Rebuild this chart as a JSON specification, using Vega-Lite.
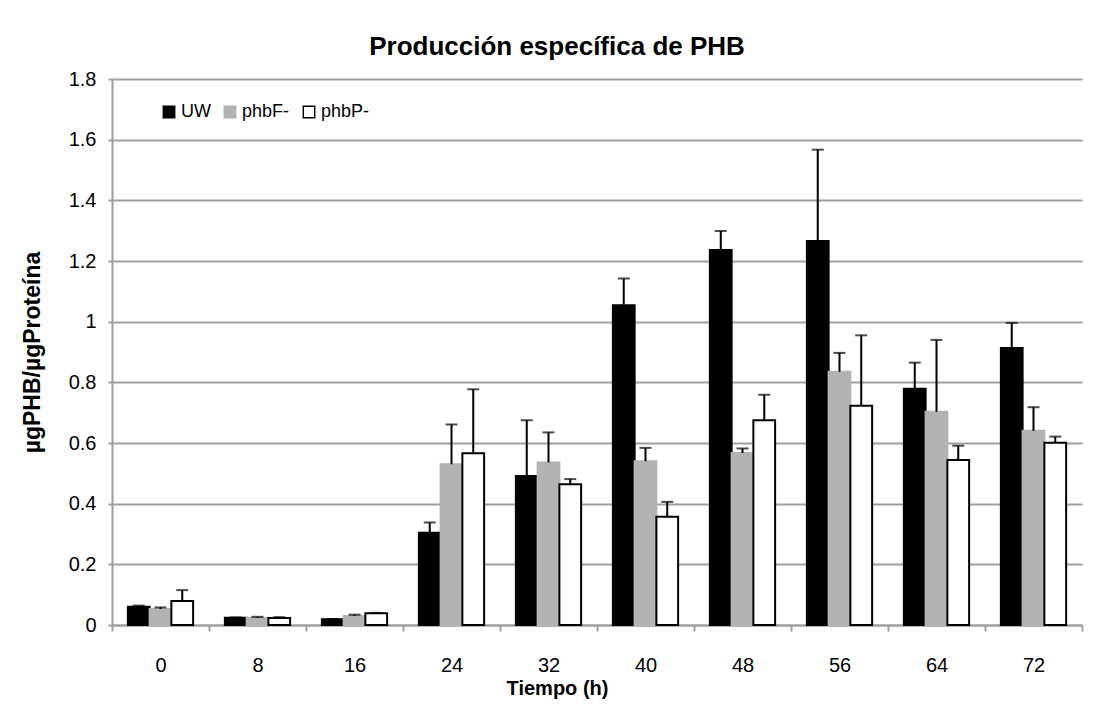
{
  "$schema": "https://vega.github.io/schema/vega-lite/v6.json",
  "width": 970,
  "height": 546,
  "autosize": {"type": "none"},
  "padding": {"left": 112, "top": 79, "right": 14, "bottom": 82},
  "background": "white",
  "title": {"text": "Producción específica de PHB", "font": "Liberation Sans", "fontSize": 26, "fontWeight": "bold", "color": "#000000", "offset": 9, "dx": -40},
  "data": {"values": [
    {"t": "0", "series": "UW", "value": 0.060, "upper": 0.064},
    {"t": "0", "series": "phbF-", "value": 0.053, "upper": 0.058},
    {"t": "0", "series": "phbP-", "value": 0.079, "upper": 0.115},
    {"t": "8", "series": "UW", "value": 0.024, "upper": 0.025},
    {"t": "8", "series": "phbF-", "value": 0.024, "upper": 0.027},
    {"t": "8", "series": "phbP-", "value": 0.023, "upper": 0.026},
    {"t": "16", "series": "UW", "value": 0.019, "upper": 0.020},
    {"t": "16", "series": "phbF-", "value": 0.030, "upper": 0.034},
    {"t": "16", "series": "phbP-", "value": 0.039, "upper": 0.040},
    {"t": "24", "series": "UW", "value": 0.304, "upper": 0.338},
    {"t": "24", "series": "phbF-", "value": 0.530, "upper": 0.661},
    {"t": "24", "series": "phbP-", "value": 0.566, "upper": 0.777},
    {"t": "32", "series": "UW", "value": 0.491, "upper": 0.675},
    {"t": "32", "series": "phbF-", "value": 0.536, "upper": 0.635},
    {"t": "32", "series": "phbP-", "value": 0.464, "upper": 0.481},
    {"t": "40", "series": "UW", "value": 1.054, "upper": 1.142},
    {"t": "40", "series": "phbF-", "value": 0.540, "upper": 0.584},
    {"t": "40", "series": "phbP-", "value": 0.357, "upper": 0.406},
    {"t": "48", "series": "UW", "value": 1.236, "upper": 1.299},
    {"t": "48", "series": "phbF-", "value": 0.567, "upper": 0.582},
    {"t": "48", "series": "phbP-", "value": 0.675, "upper": 0.759},
    {"t": "56", "series": "UW", "value": 1.266, "upper": 1.567},
    {"t": "56", "series": "phbF-", "value": 0.835, "upper": 0.897},
    {"t": "56", "series": "phbP-", "value": 0.723, "upper": 0.955},
    {"t": "64", "series": "UW", "value": 0.779, "upper": 0.865},
    {"t": "64", "series": "phbF-", "value": 0.703, "upper": 0.940},
    {"t": "64", "series": "phbP-", "value": 0.544, "upper": 0.591},
    {"t": "72", "series": "UW", "value": 0.913, "upper": 0.996},
    {"t": "72", "series": "phbF-", "value": 0.640, "upper": 0.718},
    {"t": "72", "series": "phbP-", "value": 0.601, "upper": 0.621}
  ]},
  "encoding": {
    "x": {
      "field": "t", "type": "ordinal", "sort": null,
      "scale": {"paddingInner": 0, "paddingOuter": 0},
      "axis": {
        "title": "Tiempo (h)", "titleFont": "Liberation Sans", "titleFontSize": 20, "titleFontWeight": "bold", "titleColor": "#000000",
        "titleX": 445, "titleAlign": "center", "titlePadding": 3,
        "labelAngle": 0, "labelFont": "Liberation Sans", "labelFontSize": 20, "labelColor": "#000000", "labelPadding": 24,
        "tickBand": "extent", "tickSize": 6, "tickColor": "#a0a0a0", "tickWidth": 2,
        "domainColor": "#a0a0a0", "domainWidth": 2, "grid": false
      }
    },
    "xOffset": {"field": "series", "type": "nominal", "sort": ["UW", "phbF-", "phbP-"], "scale": {"paddingInner": 0, "paddingOuter": 0.73}}
  },
  "layer": [
    {
      "mark": {"type": "bar", "strokeWidth": 2},
      "encoding": {
        "y": {
          "field": "value", "type": "quantitative",
          "scale": {"domain": [0, 1.8], "nice": false},
          "axis": {
            "title": "µgPHB/µgProteína", "titleFont": "Liberation Sans", "titleFontSize": 23, "titleFontWeight": "bold", "titleColor": "#000000", "titlePadding": 24,
            "values": [0, 0.2, 0.4, 0.6, 0.8, 1, 1.2, 1.4, 1.6, 1.8], "format": ".1~f",
            "labelFont": "Liberation Sans", "labelFontSize": 20, "labelColor": "#000000", "labelPadding": 12,
            "tickSize": 4, "tickColor": "#a0a0a0", "tickWidth": 2,
            "gridColor": "#a0a0a0", "gridWidth": 2, "domainColor": "#a0a0a0", "domainWidth": 2
          }
        },
        "color": {
          "field": "series", "type": "nominal",
          "scale": {"domain": ["UW", "phbF-", "phbP-"], "range": ["#000000", "#b3b3b3", "#ffffff"]},
          "legend": {
            "title": null, "orient": "none", "legendX": 48, "legendY": 24, "direction": "horizontal",
            "symbolType": "square", "symbolSize": 130, "symbolStrokeWidth": 1.5, "symbolOpacity": 1,
            "labelFont": "Liberation Sans", "labelFontSize": 18, "labelColor": "#000000", "labelOffset": 3, "columnPadding": 10
          }
        },
        "stroke": {
          "field": "series", "type": "nominal",
          "scale": {"domain": ["UW", "phbF-", "phbP-"], "range": ["#000000", "#b3b3b3", "#000000"]},
          "legend": {
            "title": null, "orient": "none", "legendX": 48, "legendY": 24, "direction": "horizontal",
            "symbolType": "square", "symbolSize": 130, "symbolStrokeWidth": 1.5, "symbolOpacity": 1,
            "labelFont": "Liberation Sans", "labelFontSize": 18, "labelColor": "#000000", "labelOffset": 3, "columnPadding": 10
          }
        }
      }
    },
    {
      "mark": {"type": "rule", "color": "#000000", "strokeWidth": 2},
      "encoding": {
        "y": {"field": "value", "type": "quantitative"},
        "y2": {"field": "upper"}
      }
    },
    {
      "mark": {"type": "tick", "color": "#000000", "thickness": 2, "size": 12, "orient": "horizontal"},
      "encoding": {
        "y": {"field": "upper", "type": "quantitative"}
      }
    }
  ],
  "config": {"view": {"stroke": null}}
}
